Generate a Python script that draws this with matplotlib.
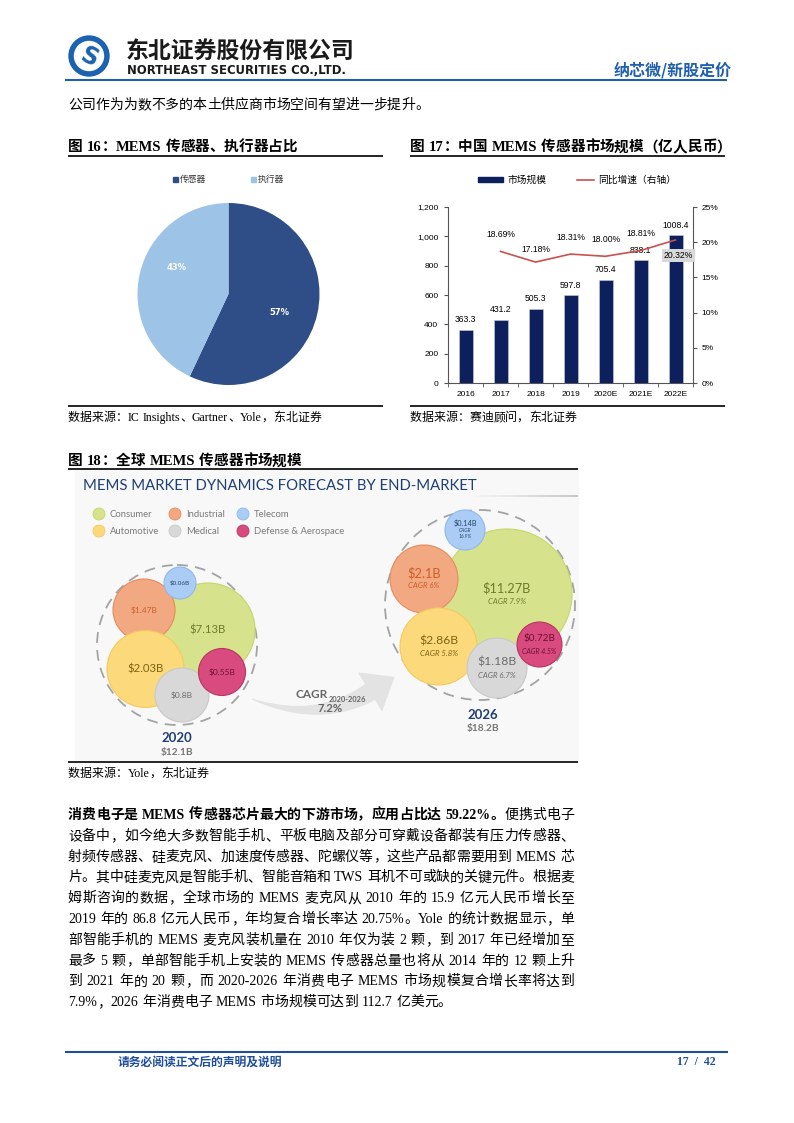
import numpy as np
import matplotlib
matplotlib.use('Agg')
import matplotlib.pyplot as plt
from matplotlib.patches import Circle, Rectangle, Polygon
from matplotlib.collections import LineCollection

# ---- data ----
pie_labels = ['传感器', '执行器']
pie_values = [57, 43]

years = ['2016', '2017', '2018', '2019', '2020E', '2021E', '2022E']
market = [363.3, 431.2, 505.3, 597.8, 705.4, 838.1, 1008.4]
growth = [np.nan, 18.69, 17.18, 18.31, 18.00, 18.81, 20.32]

segments = ['Consumer', 'Industrial', 'Telecom', 'Automotive', 'Medical', 'Defense & Aerospace']
value_2020 = [7.13, 1.47, 0.06, 2.03, 0.8, 0.55]
value_2026 = [11.27, 2.1, 0.14, 2.86, 1.18, 0.72]
cagr_2026 = ['7.9%', '6%', '16.9%', '5.8%', '6.7%', '4.5%']
total_2020 = '$12.1B'
total_2026 = '$18.2B'
cagr_total = '7.2%'

W, H = 794, 1123
CJK = 'Noto Sans CJK SC'
SERIF = 'Liberation Serif'
SANS = 'Liberation Sans'
GILL = 'Lato'

fig = plt.figure(figsize=(W / 100, H / 100), dpi=100)
page = fig.add_axes([0, 0, 1, 1])
page.set_xlim(0, W)
page.set_ylim(H, 0)
page.axis('off')
renderer = fig.canvas.get_renderer()


def is_cjk(ch):
    return ord(ch) >= 0x2E80


def split_atoms(segs):
    out = []
    for s, bold in segs:
        buf = ''
        for ch in s:
            if is_cjk(ch) or ch == ' ':
                if buf:
                    out.append((buf, bold))
                    buf = ''
                out.append((ch, bold))
            else:
                buf += ch
        if buf:
            out.append((buf, bold))
    return out


def draw_line(segs, x0, yc, size=10, x1=None, color='#000000', latin=SERIF):
    """draw mixed CJK/latin text, optionally justified between x0 and x1"""
    px = size * 100 / 72
    base = yc + 0.36 * px
    items = []
    for s, bold in split_atoms(segs):
        if s == ' ':
            items.append((None, px * 0.28))
            continue
        fam = CJK if is_cjk(s[0]) else latin
        t = page.text(0, base, s, fontsize=size, family=fam, color=color,
                      fontweight='bold' if bold else 'normal',
                      va='baseline', ha='left')
        items.append((t, t.get_window_extent(renderer).width))
    total = sum(w for _, w in items)
    gap = 0
    if x1 is not None and len(items) > 1:
        gap = (x1 - x0 - total) / (len(items) - 1)
    x = x0
    for t, w in items:
        if t is not None:
            t.set_x(x)
        x += w + gap
    return x


def hline(x0, x1, y, color='black', lw=1.2):
    page.plot([x0, x1], [y, y], color=color, lw=lw, solid_capstyle='butt')


# ---- header ----
blue = '#1F5FAD'
page.add_patch(Circle((89, 56), 20, color='#1B62B0'))
page.add_patch(Circle((89, 56), 14.5, color='white'))
page.text(89, 57, 'S', fontsize=17, fontweight='bold', family='DejaVu Sans',
          color='#1B62B0', ha='center', va='center', rotation=-25)
page.text(126, 51, '东北证券股份有限公司', fontsize=16.5, family=CJK, fontweight='bold',
          color='#1a1a1a', va='center', ha='left')
page.text(127, 71, 'NORTHEAST SECURITIES CO.,LTD.', fontsize=8.4, family='DejaVu Sans',
          fontweight='bold', color='#1a1a1a', va='center', ha='left')
page.text(732, 70, '纳芯微/新股定价', fontsize=11.5, family=CJK, fontweight='bold',
          color=blue, va='center', ha='right')
hline(65, 727, 80, color=blue, lw=1.5)

draw_line([('公司作为为数不多的本土供应商市场空间有望进一步提升。', False)], 68, 104, size=10)

# ---- figure titles / sources ----
draw_line([('图 16：MEMS 传感器、执行器占比', True)], 68, 146, size=10.5)
hline(68, 383, 156)
hline(68, 383, 406)
draw_line([('数据来源：IC Insights、Gartner、Yole，东北证券', False)], 68, 417, size=8.6)

draw_line([('图 17：中国 MEMS 传感器市场规模（亿人民币）', True)], 410, 146, size=10.5)
hline(410, 725, 156)
hline(410, 725, 406)
draw_line([('数据来源：赛迪顾问，东北证券', False)], 410, 417, size=8.6)

draw_line([('图 18：全球 MEMS 传感器市场规模', True)], 68, 460, size=10.5)
hline(68, 578, 469)
hline(68, 578, 762)
draw_line([('数据来源：Yole，东北证券', False)], 68, 773, size=8.6)

# ---- pie (figure 16) ----
pie_dark, pie_light = '#2F4E87', '#9DC3E6'
cx, cy, r = 228.5, 294, 91
axp = fig.add_axes([(cx - r) / W, 1 - (cy + r) / H, 2 * r / W, 2 * r / H])
_, _, autos = axp.pie(pie_values, colors=[pie_dark, pie_light], startangle=90, counterclock=False,
                      autopct=lambda p: f'{p:.0f}%', pctdistance=0.6,
                      textprops=dict(color='white', fontsize=6, fontweight='bold', family='DejaVu Sans'))
for a, pos in zip(autos, [(0.56, -0.2), (-0.57, 0.29)]):
    a.set_position(pos)
axp.set_xlim(-1, 1)
axp.set_ylim(-1, 1)
for (lx, c), lab in zip([(173, pie_dark), (251, pie_light)], pie_labels):
    page.add_patch(Rectangle((lx, 177), 4.5, 4.5, color=c))
    page.text(lx + 7, 179.5, lab, fontsize=6.3, family=CJK, va='center', ha='left', color='#333333')

# ---- bar + line (figure 17) ----
navy = '#0D1F5C'
red = '#C9514E'
axb = fig.add_axes([448 / W, 1 - 383 / H, 245 / W, 176 / H])
x = np.arange(len(years))
axb.bar(x, market, width=0.4, color=navy, edgecolor='#C8CCDA', linewidth=0.4)
axb.set_xlim(-0.5, len(years) - 0.5)
axb.set_ylim(0, 1200)
axb.set_yticks(np.arange(0, 1201, 200))
axb.set_yticklabels([f'{v:,}' for v in range(0, 1201, 200)])
axb.set_xticks(x)
axb.set_xticklabels(years)
axb.set_xticks(np.arange(-0.5, len(years), 1), minor=True)
axb.tick_params(axis='x', which='major', length=0, pad=6)
axb.tick_params(axis='x', which='minor', length=3, color='#555555')
axb.tick_params(axis='y', length=3, color='#555555', pad=4)
for lab in axb.get_xticklabels() + axb.get_yticklabels():
    lab.set_fontsize(6)
    lab.set_family(SANS)
for i, v in enumerate(market):
    axb.annotate(f'{v:.1f}', (i, v), xytext=(0, 4), textcoords='offset points',
                 ha='center', va='bottom', fontsize=6.2, family=SANS)
axr = axb.twinx()
axr.plot(x, growth, color=red, lw=1.2)
axr.set_ylim(0, 25)
axr.set_yticks(np.arange(0, 26, 5))
axr.set_yticklabels([f'{v}%' for v in range(0, 26, 5)])
axr.tick_params(axis='y', length=3, color='#555555', pad=3)
for lab in axr.get_yticklabels():
    lab.set_fontsize(6)
    lab.set_family(SANS)
for a in (axb, axr):
    a.set_facecolor('none')
    a.spines['top'].set_visible(False)
    for s in ('left', 'right', 'bottom'):
        a.spines[s].set_color('#555555')
        a.spines[s].set_linewidth(0.8)
axb.spines['right'].set_visible(False)
axr.spines['left'].set_visible(False)
axr.spines['bottom'].set_visible(False)
label_dy = [0, 9, 6, 9, 9, 9, -11]
for i, g in enumerate(growth):
    if np.isnan(g):
        continue
    if label_dy[i] > 0:
        axr.annotate(f'{g:.2f}%', (i, g), xytext=(0, label_dy[i]), textcoords='offset points',
                     ha='center', va='bottom', fontsize=6.2, family=SANS)
    else:
        axr.annotate(f'{g:.2f}%', (i, g), xytext=(2, label_dy[i]), textcoords='offset points',
                     ha='center', va='center', fontsize=6.2, family=SANS,
                     bbox=dict(boxstyle='square,pad=0.25', fc='#D9D9D9', ec='none'))
# legend
page.add_patch(Rectangle((478, 177), 25, 5, color=navy))
page.text(507, 179.5, '市场规模', fontsize=7, family=CJK, va='center', ha='left')
page.plot([577, 594], [179.5, 179.5], color=red, lw=1.2)
page.text(598, 179.5, '同比增速（右轴）', fontsize=7, family=CJK, va='center', ha='left')

# ---- infographic (figure 18) ----
page.add_patch(Rectangle((75, 470), 503, 290, color='#F8F8F8', zorder=0))
page.text(83, 486, 'MEMS MARKET DYNAMICS FORECAST BY END-MARKET', fontsize=10.7, family=GILL,
          color='#1F3F73', va='center', ha='left')
gx = np.linspace(470, 578, 40)
segs_line = [[(gx[k], 496), (gx[k + 1], 496)] for k in range(len(gx) - 1)]
page.add_collection(LineCollection(segs_line, colors=[(0.75, 0.75, 0.75, a) for a in np.linspace(0, 1, len(gx) - 1)], lw=1.2))

fills = ['#D6E38C', '#F2A982', '#ABCDF5', '#FCD97A', '#D8D8D8', '#D94B7E']
edges = ['#C5D76A', '#E98A5C', '#8FB8EE', '#F6C95C', '#C9C9C9', '#B8345F']
txtc = ['#6E7C2C', '#CF5E28', '#26466F', '#7E6412', '#6C6C6C', '#6E1230']

legend_pos = [(99, 514), (175, 514), (243, 514), (99, 531), (175, 531), (243, 531)]
for (lx, ly), seg, fc, ec in zip(legend_pos, segments, fills, edges):
    page.add_patch(Circle((lx, ly), 6, fc=fc, ec=ec, lw=0.6))
    page.text(lx + 11, ly + 0.5, seg, fontsize=6.8, family=GILL, color='#7A7A7A', va='center', ha='left')

# bubble layout (centre x, centre y, radius) in page pixels
lay_2020 = [(208, 630, 47), (144, 610, 31), (180, 583, 16), (145.5, 669, 38.5), (182, 695, 27), (222, 672, 23.5)]
lay_2026 = [(507, 594, 65), (424, 579, 34), (465, 530, 20), (438.5, 646.5, 38.5), (497, 668, 30), (539.5, 644.5, 22.5)]
size_2020 = [8.2, 6, 4.5, 8.2, 6, 6]
size_2026 = [9.2, 9.2, 5.3, 8.8, 8.8, 7.2]

page.add_patch(Circle((177, 645), 80, fill=False, ec='#A3A3A3', lw=1.3, ls=(0, (6, 4))))
page.add_patch(Circle((480, 605), 95, fill=False, ec='#A3A3A3', lw=1.3, ls=(0, (6, 4))))

for (bx, by, br), v, fs, fc, ec, tc in zip(lay_2020, value_2020, size_2020, fills, edges, txtc):
    page.add_patch(Circle((bx, by), br, fc=fc, ec=ec, lw=0.8))
    page.text(bx, by, f'${v}B', fontsize=fs, family=GILL, color=tc, ha='center', va='center')

for k, ((bx, by, br), v, cg, fs, fc, ec, tc) in enumerate(zip(lay_2026, value_2026, cagr_2026, size_2026, fills, edges, txtc)):
    page.add_patch(Circle((bx, by), br, fc=fc, ec=ec, lw=0.8))
    if segments[k] == 'Telecom':
        page.text(bx, by - 7, f'${v}B', fontsize=fs, family=GILL, color=tc, ha='center', va='center')
        page.text(bx, by + 1, 'CAGR', fontsize=3.6, family=GILL, style='italic', color=tc, ha='center', va='center')
        page.text(bx, by + 7, cg, fontsize=3.6, family=GILL, style='italic', color=tc, ha='center', va='center')
    else:
        page.text(bx, by - 6, f'${v}B', fontsize=fs, family=GILL, color=tc, ha='center', va='center')
        page.text(bx, by + 7, f'CAGR {cg}', fontsize=5.6 if fs > 8 else 5, family=GILL,
                  style='italic', color=tc, ha='center', va='center')

page.text(177, 738, '2020', fontsize=9.5, family=GILL, fontweight='bold', color='#1F3F73', ha='center', va='center')
page.text(177, 752, total_2020, fontsize=7.3, family=GILL, fontweight='bold', color='#777777', ha='center', va='center')
page.text(483, 715, '2026', fontsize=9.5, family=GILL, fontweight='bold', color='#1F3F73', ha='center', va='center')
page.text(483, 729, total_2026, fontsize=7.3, family=GILL, fontweight='bold', color='#777777', ha='center', va='center')

# curved arrow
p0, pc, p2 = np.array([252, 699]), np.array([318, 724]), np.array([370, 692])
tt = np.linspace(0, 1, 40)
curve = ((1 - tt) ** 2)[:, None] * p0 + (2 * (1 - tt) * tt)[:, None] * pc + (tt ** 2)[:, None] * p2
tang = 2 * ((1 - tt)[:, None] * (pc - p0) + tt[:, None] * (p2 - pc))
tang /= np.linalg.norm(tang, axis=1)[:, None]
norm = np.column_stack([-tang[:, 1], tang[:, 0]])
half = 0.5 + 9 * tt
upper = curve + norm * half[:, None]
lower = curve - norm * half[:, None]
t_end, n_end = tang[-1], norm[-1]
tip = p2 + 29 * t_end
head = [p2 + n_end * 23, tip, p2 - n_end * 23]
arrow_pts = np.vstack([upper, head, lower[::-1]])
page.add_patch(Polygon(arrow_pts, closed=True, fc='#E3E3E3', ec='none', zorder=1))
page.text(328, 695, 'CAGR', fontsize=8.5, family=GILL, fontweight='bold', color='#666666', ha='right', va='center', zorder=3)
page.text(329, 699, '2020-2026', fontsize=5.4, family=GILL, fontweight='bold', color='#666666', ha='left', va='center', zorder=3)
page.text(330, 709, cagr_total, fontsize=8.2, family=GILL, fontweight='bold', color='#666666', ha='center', va='center', zorder=3)

# ---- body paragraph ----
body = [
    [('消费电子是 MEMS 传感器芯片最大的下游市场，应用占比达 59.22%。', True), ('便携式电子', False)],
    [('设备中，如今绝大多数智能手机、平板电脑及部分可穿戴设备都装有压力传感器、', False)],
    [('射频传感器、硅麦克风、加速度传感器、陀螺仪等，这些产品都需要用到 MEMS 芯', False)],
    [('片。其中硅麦克风是智能手机、智能音箱和 TWS 耳机不可或缺的关键元件。根据麦', False)],
    [('姆斯咨询的数据，全球市场的 MEMS 麦克风从 2010 年的 15.9 亿元人民币增长至', False)],
    [('2019 年的 86.8 亿元人民币，年均复合增长率达 20.75%。Yole 的统计数据显示，单', False)],
    [('部智能手机的 MEMS 麦克风装机量在 2010 年仅为装 2 颗，到 2017 年已经增加至', False)],
    [('最多 5 颗，单部智能手机上安装的 MEMS 传感器总量也将从 2014 年的 12 颗上升', False)],
    [('到 2021 年的 20 颗，而 2020-2026 年消费电子 MEMS 市场规模复合增长率将达到', False)],
    [('7.9%，2026 年消费电子 MEMS 市场规模可达到 112.7 亿美元。', False)],
]
for k, segs in enumerate(body):
    yc = 814 + k * 20.8
    draw_line(segs, 68, yc, size=10, x1=None if k == len(body) - 1 else 574)

# ---- footer ----
foot = '#1F4E9C'
hline(65, 728, 1052, color=foot, lw=1.5)
page.text(118, 1062, '请务必阅读正文后的声明及说明', fontsize=8.5, family=CJK, fontweight='bold',
          color=foot, va='center', ha='left')
page.text(716, 1062, '17  /  42', fontsize=8.5, family=SERIF, fontweight='bold',
          color=foot, va='center', ha='right')

fig.savefig('out.png', dpi=100)
